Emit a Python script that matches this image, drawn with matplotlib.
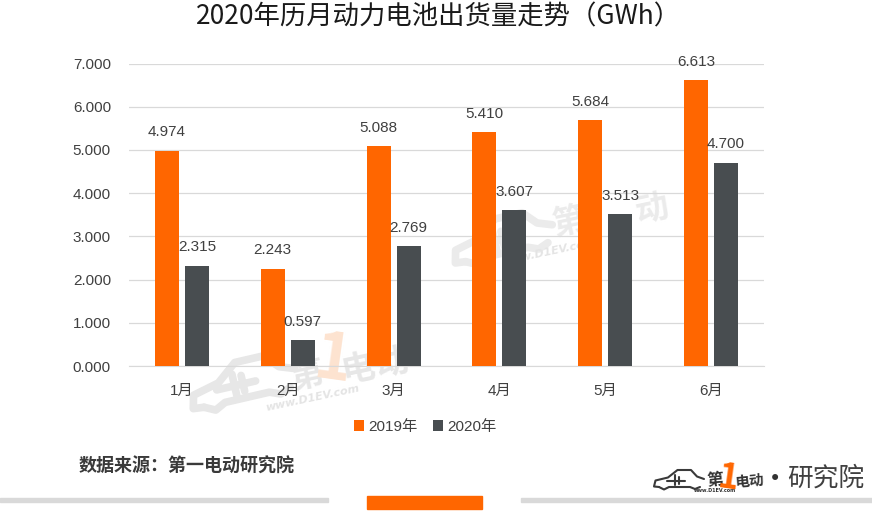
import matplotlib
matplotlib.use("Agg")
import matplotlib.pyplot as plt
from matplotlib.patches import Rectangle
import numpy as np

plt.rcParams['font.family'] = ['Noto Sans CJK SC', 'DejaVu Sans']
NUMFONT = ['Liberation Sans', 'Noto Sans CJK SC']

months = ['1月', '2月', '3月', '4月', '5月', '6月']
v2019 = [4.974, 2.243, 5.088, 5.410, 5.684, 6.613]
v2020 = [2.315, 0.597, 2.769, 3.607, 3.513, 4.700]
yticks = [0, 1, 2, 3, 4, 5, 6, 7]
ORANGE = '#FF6600'
DARK = '#484D50'
TXT = '#404040'
W, H = 872, 518

fig = plt.figure(figsize=(W/100, H/100), dpi=100)
def fx(p): return p/W
def fy(p): return 1-p/H

def ftext(x, y, s, **k):
    return fig.text(fx(x), fy(y), s, **k)

bg = fig.add_axes([0, 0, 1, 1], zorder=0)
bg.set_xlim(0, W); bg.set_ylim(H, 0); bg.axis('off')

# logo car silhouette, decorative only (local units, y up)
CAR_TOP = [(10, 6), (0, 7), (3, 19), (28, 25), (47, 40), (74, 40), (86, 27), (100, 22)]
CAR_BOT = [(10, 6), (20, 1), (30, 6), (72, 6), (82, 2), (92, 6)]
PLUG = [[(25, 19), (62, 19)], [(42, 10), (42, 30)], [(50, 12), (50, 27)]]
def car(axis, x0, y0, scale, rot, color, lw, zorder=0):
    a = np.deg2rad(rot)
    def tr(pts):
        p = np.array(pts, float)*scale
        return x0+p[:, 0]*np.cos(a)-p[:, 1]*np.sin(a), y0-p[:, 0]*np.sin(a)-p[:, 1]*np.cos(a)
    for seg in [CAR_TOP, CAR_BOT]+PLUG:
        xs, ys = tr(seg)
        axis.plot(xs, ys, color=color, lw=lw, solid_capstyle='round', solid_joinstyle='round', zorder=zorder)

WM = '#E7E7E7'
car(bg, 195, 416, 1.08, 13, WM, 5.5)
bg.text(308, 376, '第', fontsize=24, color=WM, rotation=12, ha='center', va='center', fontweight='bold')
bg.text(333, 361, '1', fontsize=46, color='#FDE3D0', rotation=-8, ha='center', va='center', fontweight='bold')
bg.text(358, 369, '电', fontsize=24, color=WM, rotation=12, ha='center', va='center', fontweight='bold')
bg.text(392, 364, '动', fontsize=24, color=WM, rotation=12, ha='center', va='center', fontweight='bold')
bg.text(312, 398, 'www.D1EV.com', fontsize=8, color='#E4E4E4', rotation=12, ha='center', va='center', style='italic', fontweight='bold', family='DejaVu Sans')

WM2 = '#EBEBEB'
car(bg, 457, 270, 1.03, 13, WM2, 5.5)
bg.text(570, 222, '第', fontsize=24, color=WM2, rotation=12, ha='center', va='center', fontweight='bold')
bg.text(652, 210, '动', fontsize=24, color=WM2, rotation=12, ha='center', va='center', fontweight='bold')
bg.text(548, 252, 'www.D1EV.com', fontsize=8, color='#E4E4E4', rotation=12, ha='center', va='center', style='italic', fontweight='bold', family='DejaVu Sans')

ax = fig.add_axes([fx(129), fy(366), (764-129)/W, (366-63.5)/H], zorder=1)
ax.patch.set_alpha(0)
x = np.arange(len(months))
bw = 24/105.8
off = 15/105.8
b1 = ax.bar(x-off, v2019, bw, color=ORANGE, label='2019年', zorder=3)
b2 = ax.bar(x+off, v2020, bw, color=DARK, label='2020年', zorder=3)
for xs, vals in [(x-off, v2019), (x+off, v2020)]:
    for xi, v in zip(xs, vals):
        ax.text(xi, v+0.43, f'{v:.3f}', ha='center', va='center', fontsize=11, color=TXT, zorder=4,
                family=NUMFONT, clip_on=False)
ax.set_xlim(-0.5, 5.5)
ax.set_ylim(0, 7)
ax.set_yticks(yticks)
ax.set_yticklabels([f'{t:.3f}' for t in yticks], family=NUMFONT)
ax.set_xticks(x)
ax.set_xticklabels(months, family=NUMFONT)
ax.tick_params(length=0, labelsize=11, labelcolor=TXT)
ax.tick_params(axis='x', pad=13)
ax.tick_params(axis='y', pad=13)
ax.grid(axis='y', color='#D9D9D9', lw=0.9, zorder=0)
for s in ['top', 'left', 'right']:
    ax.spines[s].set_visible(False)
ax.spines['bottom'].set_color('#D9D9D9')

ftext(439, 17, '2020年历月动力电池出货量走势（GWh）', fontsize=19, color='#1A1A1A', ha='center', va='center')

leg = fig.legend(handles=[b1, b2], loc='center', bbox_to_anchor=(fx(425.5), fy(427)), ncol=2, frameon=False,
                 handlelength=0.65, handleheight=0.75, handletextpad=0.3, columnspacing=1.0,
                 labelcolor=TXT, prop={'family': NUMFONT, 'size': 11})

ftext(79, 466, '数据来源：第一电动研究院', fontsize=13, fontweight='bold', color='#3A3A3A', ha='left', va='center')

fig.add_artist(Rectangle((fx(0), fy(502)), fx(328), 4/H, color='#D9D9D9', transform=fig.transFigure))
fig.add_artist(Rectangle((fx(521), fy(502)), fx(351), 4/H, color='#D9D9D9', transform=fig.transFigure))
fig.add_artist(Rectangle((fx(367), fy(509)), fx(115), 13/H, color=ORANGE, transform=fig.transFigure))

# bottom-right logo
car(bg, 654, 490, 0.5, 0, '#3A3A3A', 1.5, zorder=2)
ftext(715, 480, '第', fontsize=12, color='#333333', ha='center', va='center', fontweight='bold', rotation=5)
ftext(728, 478, '1', fontsize=25, color=ORANGE, ha='center', va='center', fontweight='bold', rotation=-8)
ftext(749, 481, '电动', fontsize=10.5, color='#333333', ha='center', va='center', fontweight='bold', rotation=5)
ftext(715, 490.5, 'www.D1EV.com', fontsize=3.5, color='#333333', ha='center', va='center', fontweight='bold', family='DejaVu Sans')
ftext(775, 479, '•', fontsize=15, color='#333333', ha='center', va='center', family='DejaVu Sans')
ftext(826, 479, '研究院', fontsize=18.5, color='#404040', ha='center', va='center')

fig.savefig('out.png', dpi=100)
